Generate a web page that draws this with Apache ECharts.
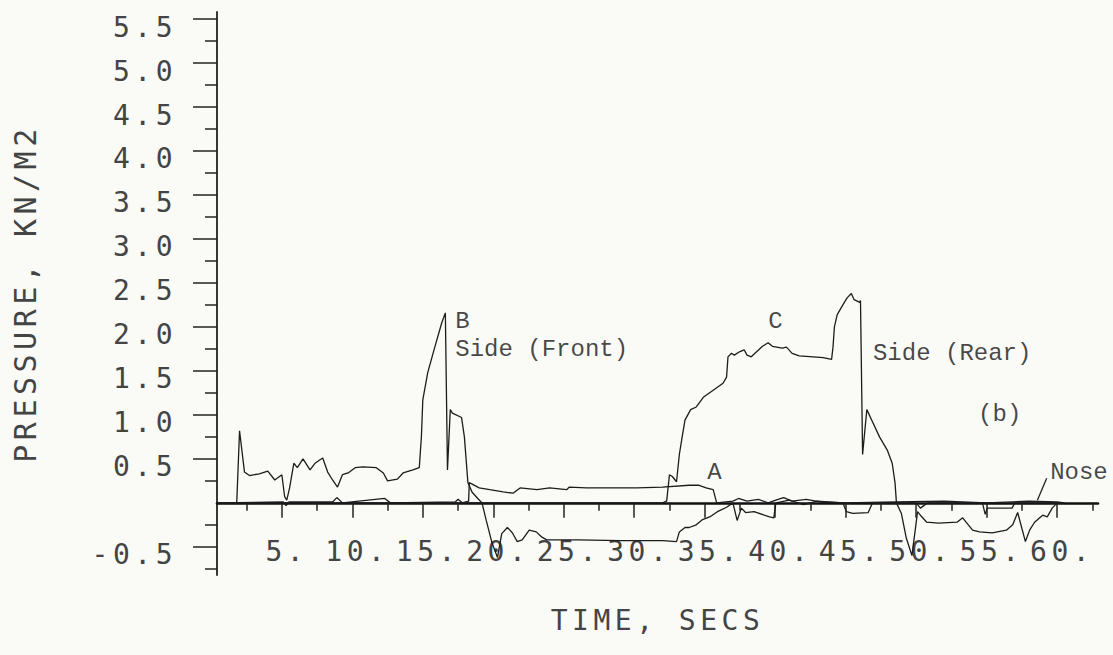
<!DOCTYPE html>
<html>
<head>
<meta charset="utf-8">
<script src="https://cdn.jsdelivr.net/npm/echarts@6/dist/echarts.min.js"></script>
<style>
html, body { margin: 0; padding: 0; background: #fafaf6; }
#main { width: 1113px; height: 655px; }
#main text[style*="DejaVu Sans Mono"] { letter-spacing: 4.5px; }
</style>
</head>
<body>
<div id="main"></div>
<script>
// ---- tick values and tick labels ----
const xMajorTicks = [5, 10, 15, 20, 25, 30, 35, 40, 45, 50, 55, 60];
const xMinorTicks = [2.5, 7.5, 12.5, 17.5, 22.5, 27.5, 32.5, 37.5, 42.5, 47.5, 52.5, 57.5, 62.5];
const xLabelValues = [5, 10, 15, 20, 25, 30, 35, 40, 45, 50, 55, 60];
const yMajorTicks = [-0.5, 0.5, 1.0, 1.5, 2.0, 2.5, 3.0, 3.5, 4.0, 4.5, 5.0, 5.5];
const yMinorTicks = [-0.75, -0.25, 0.25, 0.75, 1.25, 1.75, 2.25, 2.75, 3.25, 3.75, 4.25, 4.75, 5.25];
const yLabelValues = [-0.5, 0.5, 1.0, 1.5, 2.0, 2.5, 3.0, 3.5, 4.0, 4.5, 5.0, 5.5];

// ---- series: [time (s), pressure (kN/m2)] ----
const seriesB = [
  [0.4,0],[1.8,0],[2.0,0.82],[2.35,0.35],[2.7,0.31],[3.4,0.33],[4.0,0.36],[4.5,0.26],[5.0,0.32],
  [5.2,0.07],[5.35,0.03],[5.55,0.17],[5.85,0.45],[6.1,0.40],[6.5,0.50],[7.0,0.375],[7.35,0.45],
  [7.9,0.51],[8.25,0.35],[8.6,0.26],[8.95,0.18],[9.3,0.32],[9.7,0.34],[10.2,0.40],[10.75,0.41],
  [11.7,0.40],[12.2,0.34],[12.5,0.25],[13.2,0.27],[13.6,0.34],[14.3,0.375],[14.75,0.40],[14.9,0.75],
  [15.0,1.17],[15.35,1.48],[15.85,1.77],[16.35,2.05],[16.6,2.16],[16.75,0.375],[16.95,1.06],
  [17.1,1.02],[17.75,0.97],[17.95,0.75],[18.2,0.23],[18.5,0.12],[18.9,0.05],[19.2,0.0],[19.5,-0.2],
  [19.9,-0.45],[20.3,-0.62],[20.6,-0.35],[21.0,-0.28],[21.35,-0.34],[21.7,-0.44],[22.05,-0.42],
  [22.55,-0.31],[23.05,-0.33],[23.45,-0.39],[23.8,-0.42],[26.0,-0.42],[29.0,-0.43],[32.0,-0.43],
  [33.0,-0.44],[33.2,-0.33],[33.6,-0.28],[33.9,-0.28],[34.4,-0.25],[34.85,-0.19],[35.35,-0.16],
  [35.9,-0.1],[36.55,-0.05],[37.0,0],[37.3,-0.2],[37.6,-0.06],[37.9,-0.11],[38.5,-0.1],[39.6,-0.16],
  [39.9,-0.17],[40.05,0],[41.0,0.03],[42.0,-0.02],[43.0,0.02],[44.8,0],[45.05,-0.1],[45.5,-0.12],
  [46.6,-0.11],[46.9,0],[50.0,0],[50.3,-0.06],[50.8,0],[54.7,0],[54.9,-0.13],[55.05,-0.06],
  [56.8,-0.06],[57.0,0],[60.5,0]
];
const seriesA = [
  [0.4,0],[5.1,0.01],[5.3,-0.03],[5.5,0.01],[8.6,0.01],[8.9,0.06],[9.3,0.0],[12.3,0.05],[12.7,0.0],
  [17.3,0.01],[17.5,0.04],[17.8,0.0],[18.25,0.02],[18.3,0.23],[19.0,0.17],[19.75,0.15],[20.7,0.125],
  [21.4,0.11],[21.9,0.17],[23.1,0.15],[24.0,0.17],[25.2,0.15],[25.4,0.18],[26.6,0.17],[30.2,0.17],
  [32.0,0.18],[33.9,0.2],[34.6,0.2],[35.1,0.17],[35.6,0.15],[35.85,0],[37.0,0.02],[37.4,0.05],
  [38.0,0.02],[38.8,0.04],[39.5,0.0],[40.2,0.04],[40.6,0.06],[41.2,0.02],[42.2,0.04],[43.2,0.01],
  [45.0,0],[48.5,0.01],[52.0,0.02],[55.0,0],[58.0,0.02],[60.0,0.01],[60.5,0]
];
const seriesC = [
  [0.4,0],[32.0,0],[32.3,0.02],[32.5,0.32],[32.7,0.3],[33.0,0.24],[33.2,0.55],[33.4,0.75],[33.6,0.94],
  [34.0,1.06],[34.4,1.09],[34.9,1.2],[35.6,1.28],[36.3,1.36],[36.55,1.43],[36.65,1.66],[36.9,1.70],
  [37.1,1.68],[37.5,1.72],[37.8,1.74],[38.0,1.68],[38.3,1.66],[38.7,1.72],[39.1,1.78],[39.5,1.82],
  [39.8,1.78],[40.5,1.76],[40.8,1.77],[41.2,1.70],[41.7,1.67],[42.7,1.66],[43.4,1.65],[44.0,1.63],
  [44.1,1.77],[44.2,2.0],[44.4,2.14],[44.8,2.25],[45.1,2.33],[45.4,2.38],[45.6,2.31],[46.0,2.28],
  [46.05,2.30],[46.2,0.55],[46.5,1.06],[46.85,0.94],[47.4,0.75],[47.95,0.6],[48.3,0.45],[48.5,0.23],
  [48.6,0],[48.95,-0.12],[49.3,-0.4],[49.7,-0.6],[50.1,-0.1],[50.35,-0.15],[50.75,-0.22],[51.6,-0.23],
  [52.9,-0.22],[53.3,-0.17],[53.6,-0.23],[54.0,-0.31],[54.5,-0.33],[55.4,-0.34],[56.4,-0.31],
  [56.85,-0.25],[57.2,-0.11],[57.75,-0.44],[58.05,-0.31],[58.4,-0.22],[58.97,-0.14],[59.3,-0.16],
  [59.65,-0.06],[60.0,0],[60.5,0]
];

// ---- annotations ----
const annoText = ['B', 'Side (Front)', 'C', 'Side (Rear)', '(b)', 'A', 'Nose'];
const annoTime = [17.27, 17.27, 39.47, 46.9, 54.36, 35.14, 59.47];
const annoPressure = [2.06, 1.74, 2.06, 1.70, 1.0, 0.35, 0.34];
const noseLeader = [[58.6, 0.03], [59.26, 0.28]];

// ---- layout ----
const xMin = 0.4, xMax = 62.9, yMin = -0.82, yMax = 5.58;
const gridTop = 12, gridHeight = 563;
// the time axis crosses the pressure axis at zero
const zeroOffset = -(0 - yMin) * gridHeight / (yMax - yMin);

const axisFont = "'DejaVu Sans Mono', monospace";
const annoFont = "'Liberation Mono', monospace";
const axisColor = '#444444';
const traceColor = '#1c1c1c';

const chart = echarts.init(document.getElementById('main'), null, { renderer: 'svg' });

function trace(name, data) {
  return {
    name: name, type: 'line', data: data, xAxisIndex: 0, yAxisIndex: 0,
    showSymbol: false, symbol: 'none', silent: true,
    lineStyle: { color: traceColor, width: 1.3 }
  };
}

chart.setOption({
  backgroundColor: '#fafaf6',
  animation: false,
  grid: { left: 217, top: gridTop, width: 881, height: gridHeight, containLabel: false, outerBoundsMode: 'none' },
  xAxis: [
    {
      type: 'value', min: xMin, max: xMax, position: 'bottom', offset: zeroOffset,
      axisLine: { show: true, onZero: false, lineStyle: { color: '#111', width: 2.6 } },
      axisTick: { show: true, customValues: xMajorTicks, length: 15, lineStyle: { color: '#222', width: 1.5 } },
      axisLabel: {
        show: true, customValues: xLabelValues, formatter: v => v + '.',
        margin: 35, fontFamily: axisFont, fontSize: 28, color: axisColor, padding: [0, 0, 0, 10]
      },
      splitLine: { show: false },
      name: 'TIME, SECS', nameLocation: 'middle', nameGap: 104, nameMoveOverlap: false,
      nameTextStyle: { fontFamily: axisFont, fontSize: 28, color: axisColor }
    },
    {
      type: 'value', min: xMin, max: xMax, position: 'bottom', offset: zeroOffset,
      axisLine: { show: false, onZero: false },
      axisTick: { show: true, customValues: xMinorTicks, length: 8, lineStyle: { color: '#222', width: 1.5 } },
      axisLabel: { show: false },
      splitLine: { show: false }
    }
  ],
  yAxis: [
    {
      type: 'value', min: yMin, max: yMax, position: 'left',
      axisLine: { show: true, onZero: false, lineStyle: { color: '#222', width: 1.8 } },
      axisTick: { show: true, customValues: yMajorTicks, length: 24, lineStyle: { color: '#222', width: 1.5 } },
      axisLabel: {
        show: true, customValues: yLabelValues, formatter: v => v.toFixed(1),
        margin: 40, fontFamily: axisFont, fontSize: 28, color: axisColor,
        verticalAlign: 'top', lineHeight: 16
      },
      splitLine: { show: false },
      name: 'PRESSURE, KN/M2', nameLocation: 'middle', nameGap: 177, nameRotate: 90,
      nameTextStyle: { fontFamily: axisFont, fontSize: 30, color: axisColor }
    },
    {
      type: 'value', min: yMin, max: yMax, position: 'left',
      axisLine: { show: false, onZero: false },
      axisTick: { show: true, customValues: yMinorTicks, length: 12, lineStyle: { color: '#222', width: 1.5 } },
      axisLabel: { show: false },
      splitLine: { show: false }
    }
  ],
  series: [
    trace('Nose (A)', seriesA),
    trace('Side (Front) (B)', seriesB),
    trace('Side (Rear) (C)', seriesC),
    {
      name: 'Nose leader', type: 'line', data: noseLeader, showSymbol: false, symbol: 'none', silent: true,
      lineStyle: { color: '#222', width: 1.3 }
    },
    {
      name: 'Annotations', type: 'scatter', silent: true,
      data: annoText.map((t, i) => [annoTime[i], annoPressure[i], t]),
      symbolSize: 1, itemStyle: { color: 'rgba(0,0,0,0)' },
      label: {
        show: true, position: 'right', distance: 0, formatter: p => p.data[2],
        fontFamily: annoFont, fontSize: 24, color: '#161616'
      },
      labelLayout: { hideOverlap: false }
    }
  ]
});
</script>
</body>
</html>
